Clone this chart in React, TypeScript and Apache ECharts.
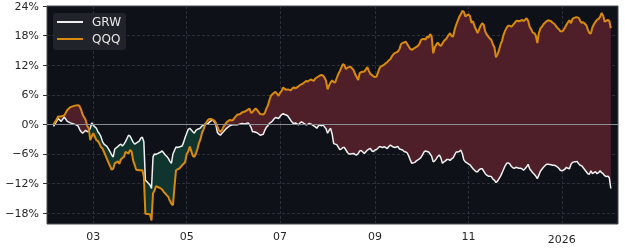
import React, { useEffect, useRef } from "react";
import * as echarts from "echarts";

// Trading-day samples, grouped by month (day-of-month lists)
const monthDays: [string, number[]][] = [
  ["2025-02", [3, 5, 6, 8, 10, 12, 14, 17, 19, 20, 21, 22, 24, 25, 26, 27, 28]],
  ["2025-03", [1, 3, 4, 5, 6, 7, 8, 10, 12, 13, 14, 15, 17, 18, 19, 20, 21, 22, 24, 25, 26, 27, 28, 29, 31]],
  ["2025-04", [1, 2, 3, 4, 7, 8, 9, 10, 11, 14, 15, 16, 17, 18, 19, 20, 21, 22, 23, 24, 25, 26, 28, 29, 30]],
  ["2025-05", [1, 2, 3, 5, 6, 7, 8, 9, 10, 11, 12, 13, 14, 15, 16, 17, 18, 19, 20, 21, 22, 23, 24, 25, 27, 29, 31]],
  ["2025-06", [1, 3, 4, 5, 6, 8, 10, 11, 12, 13, 14, 15, 16, 18, 20, 21, 22, 23, 24, 25, 26, 27, 28, 29, 30]],
  ["2025-07", [1, 2, 3, 4, 5, 6, 8, 9, 10, 11, 13, 14, 15, 16, 18, 19, 20, 21, 23, 24, 25, 26, 27, 28, 29, 30, 31]],
  ["2025-08", [1, 2, 3, 4, 5, 6, 7, 8, 9, 10, 11, 12, 13, 14, 15, 16, 18, 19, 20, 21, 22, 23, 25, 27, 28, 29, 30, 31]],
  ["2025-09", [1, 2, 3, 4, 5, 6, 7, 8, 9, 10, 11, 12, 13, 14, 15, 16, 17, 18, 19, 20, 21, 22, 23, 24, 25, 26, 27, 28, 29, 30]],
  ["2025-10", [1, 2, 3, 4, 5, 6, 7, 8, 9, 10, 11, 12, 13, 14, 15, 16, 17, 18, 19, 20, 21, 22, 23, 24, 25, 26, 27, 28, 29, 30, 31]],
  ["2025-11", [1, 2, 3, 4, 5, 6, 7, 8, 9, 10, 11, 12, 13, 14, 15, 16, 17, 18, 19, 20, 21, 22, 23, 24, 25, 26, 27, 28, 29, 30]],
  ["2025-12", [1, 2, 3, 4, 5, 6, 7, 8, 9, 10, 11, 12, 13, 14, 15, 16, 17, 18, 19, 20, 22, 23, 25, 26, 27, 28, 29, 30, 31]],
  ["2026-01", [1, 2, 3, 4, 5, 6, 7, 8, 9, 10, 11, 12, 13, 14, 15, 16, 17, 18, 19, 20, 21, 22, 23, 24, 25, 26, 27, 28, 29, 30, 31]],
  ["2026-02", [1, 2]],
];

// GRW cumulative return (%)
const grw: number[] = [
  -0.4, 0.6, 1.2, 0.6, 1.5, 0.6, 0.3, 0.0, -0.3, -1.0, -1.5, -1.8, -1.2, -1.5, -1.3, -0.8, 0.3,
  -0.2, -0.8, -1.5, -1.9, -2.5, -3.5, -4.0, -4.5, -5.6, -6.2, -6.6, -5.0, -4.5, -4.2, -4.0, -4.4, -4.0, -3.5, -2.2, -2.4, -3.0, -3.6, -4.0, -3.8, -3.4,
  -2.8, -2.6, -3.5, -11.3, -12.3, -13.0, -6.6, -6.0, -6.1, -5.6, -5.4, -5.8, -6.2, -6.5, -6.9, -7.5, -7.9, -6.0, -5.3, -4.6, -4.7, -4.6, -4.4, -3.6, -2.6,
  -1.8, -1.0, -0.8, -1.5, -1.8, -1.2, -1.0, -0.9, -0.7, -0.3, -0.2, 0.1, 0.0, 0.2, 0.5, 0.7, 0.9, 0.5, 0.0, -1.6, -2.0, -2.2, -1.8, -1.5, -0.8, -0.3, -0.1,
  -0.1, -0.1, 0.0, 0.1, 0.2, 0.1, 0.3, 0.0, -0.6, -1.5, -1.5, -1.6, -1.7, -2.2, -2.0, -1.2, -0.6, -0.3, 0.2, 0.4, 0.7, 1.1, 1.4, 1.3, 1.2,
  1.6, 2.0, 2.2, 2.0, 1.9, 1.7, 0.8, 0.4, 0.1, 0.3, -0.1, 0.3, 0.5, 0.3, -0.1, 0.0, 0.2, 0.1, -0.3, -0.5, -0.8, -0.3, -0.1, -0.3, -0.1, -0.5, -0.9,
  -1.8, -1.2, -0.8, -2.0, -3.9, -4.0, -4.1, -4.6, -5.1, -5.0, -4.7, -4.7, -5.2, -5.7, -6.0, -6.0, -5.9, -6.1, -6.2, -5.9, -5.4, -5.3, -5.9, -5.2, -5.0, -4.9, -5.4, -5.5,
  -5.2, -5.1, -4.8, -4.5, -4.6, -4.7, -4.5, -4.7, -4.9, -4.5, -4.2, -4.4, -4.6, -4.7, -4.6, -4.5, -5.0, -5.1, -5.2, -5.5, -5.6, -5.8, -6.4, -7.2, -7.9, -7.8, -7.7, -7.4, -7.2, -7.0,
  -6.7, -6.2, -5.6, -5.4, -5.5, -5.6, -6.0, -6.5, -7.6, -7.4, -7.0, -6.5, -6.2, -6.8, -7.9, -7.6, -7.4, -7.1, -7.1, -7.3, -7.0, -6.8, -6.2, -5.6, -5.6, -5.5, -5.2, -5.9, -7.2, -7.6, -7.8,
  -8.0, -8.2, -8.6, -9.0, -9.3, -9.6, -9.6, -9.2, -9.0, -9.0, -9.5, -10.0, -10.3, -10.5, -10.5, -10.6, -11.1, -11.3, -11.8, -11.5, -11.0, -10.5, -9.8, -9.1, -8.4, -7.9, -7.8, -8.0, -8.5, -8.8,
  -8.9, -8.7, -8.8, -8.9, -8.9, -9.0, -9.3, -9.0, -8.6, -8.1, -9.0, -9.4, -9.8, -10.1, -10.5, -11.0, -10.3, -9.5, -9.1, -8.7, -8.1, -8.1, -8.2, -8.3, -8.3, -8.4, -8.6, -8.9, -9.3,
  -9.4, -9.3, -9.1, -8.7, -8.9, -9.0, -8.1, -7.7, -7.6, -7.6, -7.5, -8.0, -8.3, -8.4, -8.8, -9.2, -9.6, -10.0, -10.1, -9.4, -10.0, -9.8, -9.6, -10.0, -9.8, -9.4, -9.8, -10.0, -10.4, -10.6, -10.5,
  -10.8, -13.0,
];

// QQQ cumulative return (%)
const qqq: number[] = [
  0.0, 1.0, 1.6, 1.6, 1.8, 2.9, 3.5, 3.8, 3.9, 3.7, 3.0, 2.0, 0.9, -0.3, -0.8, -3.2, -2.4,
  -1.8, -3.2, -3.4, -3.9, -4.6, -4.9, -5.6, -7.1, -8.5, -9.2, -9.0, -7.9, -7.5, -8.0, -7.1, -6.8, -6.6, -5.6, -5.9, -5.2, -5.5, -7.3, -8.2, -9.2, -9.3,
  -9.3, -9.3, -10.5, -18.1, -18.2, -19.5, -14.0, -13.4, -12.5, -13.0, -13.2, -13.7, -14.0, -14.4, -14.7, -15.5, -16.1, -16.4, -12.7, -9.3, -9.1, -9.0, -8.3, -8.0, -7.6,
  -6.0, -5.5, -4.5, -6.4, -6.6, -5.9, -5.0, -3.8, -3.0, -1.7, -1.0, -0.1, 0.5, 0.9, 1.1, 1.1, 0.9, 0.8, 0.3, -0.4, -1.2, -1.5, -1.2, -0.5, 0.4, 0.9, 0.8,
  1.2, 2.0, 2.0, 2.1, 2.4, 2.6, 3.0, 3.2, 2.3, 2.5, 2.9, 3.2, 2.9, 2.1, 2.0, 2.3, 3.2, 3.8, 4.9, 5.8, 6.1, 6.4, 6.6, 6.2, 5.8,
  6.4, 6.8, 7.5, 7.2, 7.0, 7.1, 6.9, 7.3, 7.5, 7.3, 7.7, 8.0, 8.1, 8.3, 8.8, 8.7, 8.9, 9.1, 8.8, 9.3, 9.5, 9.7, 9.9, 10.0, 9.9, 9.5, 8.8,
  7.1, 7.9, 8.5, 8.9, 8.6, 8.5, 9.4, 10.2, 10.8, 11.5, 12.2, 12.0, 11.2, 11.5, 11.6, 11.7, 11.0, 10.2, 9.6, 9.0, 10.4, 10.6, 10.7, 11.6, 10.8, 10.2, 10.0, 9.7,
  9.6, 9.7, 10.6, 11.4, 11.8, 11.9, 12.1, 12.4, 12.6, 13.0, 13.2, 13.8, 14.2, 14.5, 14.6, 14.8, 15.3, 16.3, 16.5, 16.6, 16.8, 16.3, 15.8, 15.3, 15.1, 15.3, 15.5, 15.7, 15.9, 16.3,
  17.1, 17.3, 17.3, 17.2, 17.8, 17.6, 18.3, 17.8, 14.4, 15.6, 16.2, 16.6, 16.1, 15.9, 16.4, 16.9, 17.2, 17.6, 18.1, 18.5, 17.9, 17.8, 19.2, 20.2, 21.0, 21.8, 22.3, 23.0, 22.8, 21.9, 22.1,
  22.3, 22.0, 20.6, 20.9, 19.9, 19.2, 18.5, 19.3, 20.0, 20.5, 20.2, 18.8, 18.2, 17.8, 17.4, 17.1, 16.2, 15.6, 13.6, 14.2, 15.1, 16.2, 17.0, 18.2, 19.0, 19.6, 20.0, 20.0, 19.8, 20.1,
  20.5, 20.9, 21.0, 20.9, 21.0, 21.2, 21.0, 21.2, 21.5, 21.0, 19.8, 19.3, 18.6, 18.5, 18.0, 16.5, 18.5, 19.4, 19.8, 20.3, 20.9, 21.1, 20.9, 20.6, 20.4, 20.0, 19.6, 19.3, 18.9,
  18.8, 19.1, 19.6, 20.2, 20.7, 21.1, 20.5, 21.4, 21.6, 21.7, 21.7, 21.6, 21.0, 20.6, 20.7, 20.4, 20.1, 19.2, 18.5, 18.4, 19.7, 20.3, 20.8, 21.2, 21.4, 21.8, 22.6, 22.0, 20.8, 21.0, 21.2,
  21.0, 19.5,
];

const seriesNames = ["GRW", "QQQ"];
const xTickDates = ["2025-03-01", "2025-05-01", "2025-07-01", "2025-09-01", "2025-11-01", "2026-01-01"];
const yTicks = [-18, -12, -6, 0, 6, 12, 18, 24];

const FONT = "'DejaVu Sans', sans-serif";
const DAY = 86400000;
const GAIN_FILL = "#10352f";
const LOSS_FILL = "#4f1f29";

function toTime(s: string): number {
  const [y, m, d] = s.split("-").map(Number);
  return new Date(y, m - 1, d).getTime();
}

export default function App() {
  const ref = useRef<HTMLDivElement>(null);

  useEffect(() => {
    document.body.style.margin = "0";
    const chart = echarts.init(ref.current!, null, { renderer: "svg" });

    const dates = monthDays.flatMap(([m, ds]) => ds.map((d) => `${m}-${String(d).padStart(2, "0")}`));
    const ts = dates.map(toTime);
    const xTicks = xTickDates.map(toTime);

    const grwData = ts.map((t, i) => [t, grw[i]]);
    const qqqData = ts.map((t, i) => [t, qqq[i]]);
    const bandData = ts.map((t, i) => [t, grw[i], qqq[i]]);

    // Fill between the two lines: green where GRW is above QQQ, red where below.
    const renderBand = (params: any, api: any) => {
      if (params.dataIndex !== 0) return null;
      const children: any[] = [];
      const n = ts.length;
      const G = ts.map((t, i) => api.coord([t, grw[i]]));
      const Q = ts.map((t, i) => api.coord([t, qqq[i]]));
      const sgn = (i: number) => Math.sign(grw[i] - qqq[i]);
      let top: number[][] = [G[0]];
      let bot: number[][] = [Q[0]];
      let cur = sgn(0);
      const flush = () => {
        if (top.length > 1 && cur !== 0) {
          children.push({
            type: "polygon",
            shape: { points: top.concat(bot.slice().reverse()) },
            style: { fill: cur > 0 ? GAIN_FILL : LOSS_FILL, stroke: cur > 0 ? GAIN_FILL : LOSS_FILL, lineWidth: 0.3 },
            silent: true,
          });
        }
      };
      for (let i = 0; i < n - 1; i++) {
        const s1 = sgn(i + 1);
        if (cur === 0) cur = s1;
        if (s1 === 0 || s1 === cur) {
          top.push(G[i + 1]);
          bot.push(Q[i + 1]);
        } else {
          const d0 = grw[i] - qqq[i];
          const d1 = grw[i + 1] - qqq[i + 1];
          const f = d0 / (d0 - d1);
          const P = [G[i][0] + (G[i + 1][0] - G[i][0]) * f, G[i][1] + (G[i + 1][1] - G[i][1]) * f];
          top.push(P);
          bot.push(P);
          flush();
          top = [P, G[i + 1]];
          bot = [P, Q[i + 1]];
          cur = s1;
        }
      }
      flush();
      return { type: "group", children };
    };

    chart.setOption({
      animation: false,
      grid: {
        left: 47,
        right: 7,
        top: 6,
        bottom: 26,
        show: true,
        backgroundColor: "#0e1117",
        borderColor: "#4a4d55",
        borderWidth: 1,
        outerBoundsMode: "none",
        containLabel: false,
      },
      legend: {
        data: seriesNames,
        orient: "vertical",
        left: 53,
        top: 13,
        icon: "rect",
        itemWidth: 26,
        itemHeight: 2,
        itemGap: 5,
        padding: [3, 5, 5, 4],
        backgroundColor: "rgba(34,37,45,0.92)",
        borderRadius: 3,
        selectedMode: false,
        textStyle: { color: "#e6e6e6", fontSize: 12, fontFamily: FONT, padding: [0, 0, 0, 4] },
      },
      xAxis: {
        type: "value",
        min: ts[0] - 4.25 * DAY,
        max: ts[ts.length - 1] + 4.7 * DAY,
        axisLine: { show: false },
        axisTick: {
          show: true,
          customValues: xTicks,
          length: 4,
          lineStyle: { color: "#333333", width: 1 },
        },
        axisLabel: {
          customValues: xTicks,
          color: "#262626",
          fontSize: 11,
          fontFamily: FONT,
          margin: 7,
          formatter: (v: number) => {
            const d = new Date(v);
            return d.getMonth() === 0 ? `{y|${d.getFullYear()}}` : String(d.getMonth() + 1).padStart(2, "0");
          },
          rich: { y: { color: "#262626", fontSize: 11, fontFamily: FONT, padding: [3, 0, 0, 0] } },
        },
        splitLine: { show: true, lineStyle: { color: "#2c2f37", type: [3, 2], width: 1 } },
      },
      yAxis: {
        type: "value",
        min: -20.2,
        max: 24,
        axisLine: { show: false },
        axisTick: {
          show: true,
          customValues: yTicks,
          length: 4,
          lineStyle: { color: "#333333", width: 1 },
        },
        axisLabel: {
          customValues: yTicks,
          color: "#262626",
          fontSize: 11,
          fontFamily: FONT,
          margin: 8,
          formatter: (v: number) => `${v < 0 ? "\u2212" : ""}${Math.abs(v)}%`,
        },
        splitLine: { show: true, lineStyle: { color: "#2c2f37", type: [3, 2], width: 1 } },
      },
      series: [
        {
          type: "custom",
          name: "band",
          data: bandData,
          encode: { x: 0, y: [1, 2] },
          renderItem: renderBand,
          silent: true,
          clip: true,
          z: 1,
        },
        {
          type: "line",
          name: "GRW",
          data: grwData,
          symbol: "none",
          color: "#f0f0f0",
          lineStyle: { color: "#f0f0f0", width: 1.5 },
          emphasis: { disabled: true },
          z: 3,
          markLine: {
            silent: true,
            symbol: ["none", "none"],
            label: { show: false },
            lineStyle: { color: "#8a8d93", width: 1, type: "solid" },
            data: [{ yAxis: 0 }],
          },
        },
        {
          type: "line",
          name: "QQQ",
          data: qqqData,
          symbol: "none",
          color: "#d98a0c",
          lineStyle: { color: "#d98a0c", width: 2 },
          emphasis: { disabled: true },
          z: 4,
        },
      ],
    });

    return () => chart.dispose();
  }, []);

  return <div ref={ref} style={{ position: "fixed", left: 0, top: 0, width: 625, height: 250 }} />;
}
